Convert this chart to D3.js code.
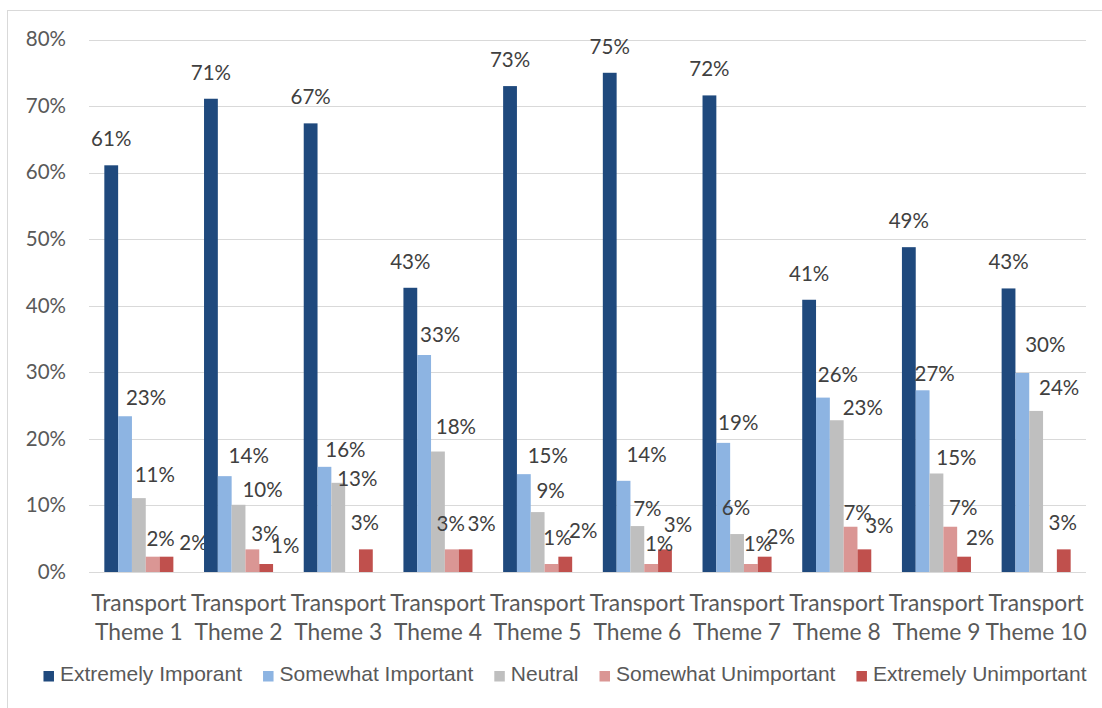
<!DOCTYPE html>
<html>
<head>
<meta charset="utf-8">
<script src="https://cdn.jsdelivr.net/npm/d3@7"></script>
<style>
  html, body { margin: 0; padding: 0; background: #fff; }
  svg { display: block; }
</style>
</head>
<body>
<svg id="chart" width="1102" height="708"></svg>
<script>
// Category labels (two lines each)
const categories = [
  "Transport Theme 1", "Transport Theme 2", "Transport Theme 3", "Transport Theme 4",
  "Transport Theme 5", "Transport Theme 6", "Transport Theme 7", "Transport Theme 8",
  "Transport Theme 9", "Transport Theme 10"
];
const seriesNames = [
  "Extremely Imporant", "Somewhat Important", "Neutral",
  "Somewhat Unimportant", "Extremely Unimportant"
];
const seriesColors = ["#1f497d", "#8db4e2", "#bfbfbf", "#da9694", "#c0504d"];

// Share of responses (%) per theme
const extremelyImportant   = [61.1, 71.1, 67.4, 42.7, 73.0, 75.0, 71.6, 40.9, 48.8, 42.6];
const somewhatImportant    = [23.4, 14.4, 15.8, 32.6, 14.7, 13.7, 19.4, 26.2, 27.3, 29.9];
const neutral              = [11.1, 10.1, 13.4, 18.1,  9.0,  6.9,  5.7, 22.8, 14.8, 24.2];
const somewhatUnimportant  = [ 2.3,  3.4,  0.0,  3.4,  1.2,  1.2,  1.2,  6.8,  6.8,  0.0];
const extremelyUnimportant = [ 2.3,  1.2,  3.4,  3.4,  2.3,  3.4,  2.3,  3.4,  2.3,  3.4];

const yTicks = [0, 10, 20, 30, 40, 50, 60, 70, 80];

// Hand-placed data-label nudges: [horizontal shift, baseline height above bar top]
const labelShiftExtremelyImportant = null; // default placement
const labelShiftSomewhatImportant = [[21,11],[24,13],[21,10],[16,13],[24,11],[23,19],[15,13],[15,16],[12,9],[23,21]];
const labelShiftNeutral = [[16,16],[24,8],[19,-3],[18,18],[13,14],[10,10],[-1,19],[26,5],[20,8],[23,16]];
const labelShiftSomewhatUnimportant = [[8,11],[13,8],[0,19],[-1,18],[6,19],[8,13],[7,13],[7,7],[13,12],[0,19]];
const labelShiftExtremelyUnimportant = [[27,7],[19,11],[-1,19],[16,18],[18,19],[13,17],[16,13],[15,16],[16,12],[-1,19]];

const seriesValues = [extremelyImportant, somewhatImportant, neutral, somewhatUnimportant, extremelyUnimportant];
const seriesShifts = [labelShiftExtremelyImportant, labelShiftSomewhatImportant, labelShiftNeutral,
                      labelShiftSomewhatUnimportant, labelShiftExtremelyUnimportant];

const svg = d3.select("#chart");
const labelFont = "Lato, 'Open Sans', sans-serif";
const legendFont = "'Liberation Sans', Arial, sans-serif";
const labelSize = 20.5;

// Chart area outline
svg.append("rect")
  .attr("x", 7.5).attr("y", 10.5)
  .attr("width", 1110).attr("height", 720)
  .attr("fill", "#fff").attr("stroke", "#d9d9d9").attr("stroke-width", 1);

const plot = { left: 89, right: 1086, top: 39.5, bottom: 572 };

const x = d3.scaleBand().domain(categories).range([plot.left, plot.right]).paddingInner(0).paddingOuter(0);
const gapRatio = 2.22;
const barW = x.bandwidth() / (seriesNames.length + gapRatio);
const xInner = d3.scaleBand().domain(d3.range(seriesNames.length))
  .range([barW * gapRatio / 2, barW * gapRatio / 2 + barW * seriesNames.length]);

const y = d3.scaleLinear().domain([0, 80]).range([plot.bottom, plot.top]);

// Gridlines
svg.append("g").selectAll("line").data(yTicks).join("line")
  .attr("x1", plot.left).attr("x2", plot.right)
  .attr("y1", d => Math.round(y(d)) + 0.5).attr("y2", d => Math.round(y(d)) + 0.5)
  .attr("stroke", "#d9d9d9").attr("stroke-width", 1);

// Y tick labels
svg.append("g").selectAll("text").data(yTicks).join("text")
  .attr("x", 66).attr("y", d => y(d) + 6.8)
  .attr("text-anchor", "end")
  .attr("font-family", labelFont).attr("font-size", labelSize)
  .attr("fill", "#595959")
  .text(d => d + "%");

// Bars
const groups = svg.append("g").selectAll("g").data(categories).join("g")
  .attr("transform", c => `translate(${x(c)},0)`);

groups.each(function(c, ci) {
  const g = d3.select(this);
  seriesValues.forEach((vals, si) => {
    const v = vals[ci];
    if (v <= 0) return;
    g.append("rect")
      .attr("x", xInner(si)).attr("width", barW)
      .attr("y", y(v)).attr("height", y(0) - y(v))
      .attr("fill", seriesColors[si]);
  });
});

// Data labels
groups.each(function(c, ci) {
  const g = d3.select(this);
  seriesValues.forEach((vals, si) => {
    const v = vals[ci];
    if (Math.round(v) <= 0) return;
    const shift = seriesShifts[si] ? seriesShifts[si][ci] : [0, 19];
    g.append("text")
      .attr("x", xInner(si) + barW / 2 + shift[0])
      .attr("y", y(v) - shift[1])
      .attr("text-anchor", "middle")
      .attr("font-family", labelFont).attr("font-size", labelSize)
      .attr("fill", "#404040")
      .text(Math.round(v) + "%");
  });
});

// Category axis labels
const catLabels = svg.append("g").selectAll("text").data(categories).join("text")
  .attr("text-anchor", "middle")
  .attr("font-family", labelFont).attr("font-size", 22.8)
  .attr("fill", "#595959");
catLabels.each(function(c) {
  const words = c.split(" ");
  const t = d3.select(this);
  const cx = x(c) + x.bandwidth() / 2;
  t.append("tspan").attr("x", cx).attr("y", 611).text(words[0]);
  t.append("tspan").attr("x", cx).attr("y", 640).text(words.slice(1).join(" "));
});

// Legend
const legend = svg.append("g");
const items = legend.selectAll("g").data(seriesNames).join("g");
items.append("rect")
  .attr("x", 0).attr("y", 671).attr("width", 10.5).attr("height", 10.5)
  .attr("fill", (d, i) => seriesColors[i]);
items.append("text")
  .attr("x", 16.5).attr("y", 681)
  .attr("font-family", legendFont).attr("font-size", 21)
  .attr("fill", "#595959")
  .text(d => d);
const gap = 21;
let widths = [];
items.each(function() {
  widths.push(16.5 + d3.select(this).select("text").node().getComputedTextLength());
});
const total = d3.sum(widths) + gap * (widths.length - 1);
let cursor = 565 - total / 2;
items.attr("transform", (d, i) => {
  const tx = cursor;
  cursor += widths[i] + gap;
  return `translate(${tx},0)`;
});
</script>
</body>
</html>
